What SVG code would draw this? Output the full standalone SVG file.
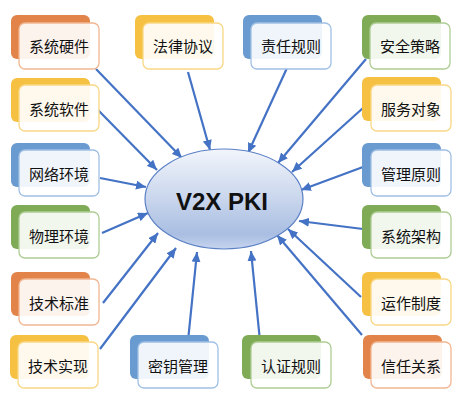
<svg xmlns="http://www.w3.org/2000/svg" width="469" height="402" viewBox="0 0 469 402">
<defs>
<linearGradient id="eg" x1="0" y1="0" x2="0" y2="1">
<stop offset="0" stop-color="#F2F5FB"/>
<stop offset="0.45" stop-color="#CDD9EE"/>
<stop offset="0.85" stop-color="#A9BEE2"/>
<stop offset="1" stop-color="#C6D4EE"/>
</linearGradient>
<marker id="ah" markerUnits="userSpaceOnUse" markerWidth="10" markerHeight="9" viewBox="0 0 10 9" refX="10" refY="4.5" orient="auto">
<path d="M0,0 L10,4.5 L0,9 Z" fill="#4472C4"/>
</marker>
</defs>
<style>
.bk{stroke:none}
.fr{fill:#ffffff;fill-opacity:0.9;stroke-width:1.3}
.o .bk{fill:#E2844A}.o .fr{stroke:#F1B692}
.y .bk{fill:#F6C143}.y .fr{stroke:#F9D785}
.b .bk{fill:#6A9BD0}.b .fr{stroke:#A0C0E4}
.g .bk{fill:#7FAB57}.g .fr{stroke:#AECD94}
.t{font-family:"Noto Sans CJK SC","Noto Sans",sans-serif;font-size:15px;fill:#111;text-anchor:middle;dominant-baseline:central}
.c line{stroke:#4472C4;stroke-width:2.2;marker-end:url(#ah)}
</style>
<g id="connectors" class="c">
<line x1="96" y1="69" x2="182" y2="158"/>
<line x1="98" y1="110" x2="157" y2="170"/>
<line x1="100" y1="178" x2="146" y2="187"/>
<line x1="102" y1="233" x2="148" y2="213"/>
<line x1="103" y1="303" x2="158" y2="233"/>
<line x1="100" y1="349" x2="176" y2="248"/>
<line x1="188" y1="72" x2="210" y2="150"/>
<line x1="287" y1="68" x2="248" y2="153"/>
<line x1="366" y1="59" x2="278" y2="163"/>
<line x1="363" y1="108" x2="292" y2="172"/>
<line x1="363" y1="167" x2="301" y2="190"/>
<line x1="363" y1="229" x2="299" y2="221"/>
<line x1="361" y1="297" x2="288" y2="229"/>
<line x1="362" y1="335" x2="277" y2="235"/>
<line x1="188" y1="341" x2="197" y2="252"/>
<line x1="260" y1="341" x2="251" y2="251"/>
</g>
<g id="center">
<ellipse cx="224" cy="199" rx="79" ry="50" fill="url(#eg)" stroke="#5B80C6" stroke-width="1.2"/>
<text x="222" y="201" font-family="'Liberation Sans',Arial,sans-serif" font-size="24" font-weight="bold" fill="#111" text-anchor="middle" dominant-baseline="central">V2X PKI</text>
</g>
<g id="n1" class="o"><rect class="bk" x="11" y="15" width="79" height="44" rx="6"/><rect class="fr" x="19" y="23" width="80" height="46" rx="6"/><text class="t" x="59" y="45">系统硬件</text></g>
<g id="n2" class="y"><rect class="bk" x="11" y="78" width="79" height="44" rx="6"/><rect class="fr" x="19" y="85" width="80" height="46" rx="6"/><text class="t" x="59" y="108">系统软件</text></g>
<g id="n3" class="b"><rect class="bk" x="11" y="143" width="79" height="44" rx="6"/><rect class="fr" x="19" y="150" width="80" height="46" rx="6"/><text class="t" x="59" y="173">网络环境</text></g>
<g id="n4" class="g"><rect class="bk" x="11" y="205" width="79" height="44" rx="6"/><rect class="fr" x="19" y="212" width="80" height="46" rx="6"/><text class="t" x="59" y="235">物理环境</text></g>
<g id="n5" class="o"><rect class="bk" x="11" y="272" width="79" height="44" rx="6"/><rect class="fr" x="19" y="279" width="80" height="46" rx="6"/><text class="t" x="59" y="302">技术标准</text></g>
<g id="n6" class="y"><rect class="bk" x="10" y="335" width="79" height="44" rx="6"/><rect class="fr" x="18" y="342" width="80" height="46" rx="6"/><text class="t" x="58" y="365">技术实现</text></g>
<g id="n7" class="y"><rect class="bk" x="135" y="15" width="79" height="44" rx="6"/><rect class="fr" x="143" y="23" width="80" height="46" rx="6"/><text class="t" x="183" y="45">法律协议</text></g>
<g id="n8" class="b"><rect class="bk" x="243" y="15" width="79" height="44" rx="6"/><rect class="fr" x="251" y="23" width="80" height="46" rx="6"/><text class="t" x="291" y="45">责任规则</text></g>
<g id="n9" class="g"><rect class="bk" x="362" y="15" width="79" height="44" rx="6"/><rect class="fr" x="370" y="23" width="80" height="46" rx="6"/><text class="t" x="410" y="45">安全策略</text></g>
<g id="n10" class="y"><rect class="bk" x="362" y="77" width="79" height="44" rx="6"/><rect class="fr" x="371" y="85" width="80" height="46" rx="6"/><text class="t" x="411" y="108">服务对象</text></g>
<g id="n11" class="b"><rect class="bk" x="362" y="143" width="79" height="44" rx="6"/><rect class="fr" x="371" y="150" width="80" height="46" rx="6"/><text class="t" x="411" y="173">管理原则</text></g>
<g id="n12" class="g"><rect class="bk" x="362" y="205" width="79" height="44" rx="6"/><rect class="fr" x="371" y="212" width="80" height="46" rx="6"/><text class="t" x="411" y="235">系统架构</text></g>
<g id="n13" class="y"><rect class="bk" x="362" y="272" width="79" height="44" rx="6"/><rect class="fr" x="371" y="279" width="80" height="46" rx="6"/><text class="t" x="411" y="302">运作制度</text></g>
<g id="n14" class="o"><rect class="bk" x="363" y="335" width="79" height="44" rx="6"/><rect class="fr" x="371" y="342" width="80" height="46" rx="6"/><text class="t" x="411" y="365">信任关系</text></g>
<g id="n15" class="b"><rect class="bk" x="130" y="335" width="79" height="44" rx="6"/><rect class="fr" x="138" y="342" width="80" height="46" rx="6"/><text class="t" x="178" y="365">密钥管理</text></g>
<g id="n16" class="g"><rect class="bk" x="242" y="335" width="79" height="44" rx="6"/><rect class="fr" x="251" y="342" width="80" height="46" rx="6"/><text class="t" x="291" y="365">认证规则</text></g>
</svg>
